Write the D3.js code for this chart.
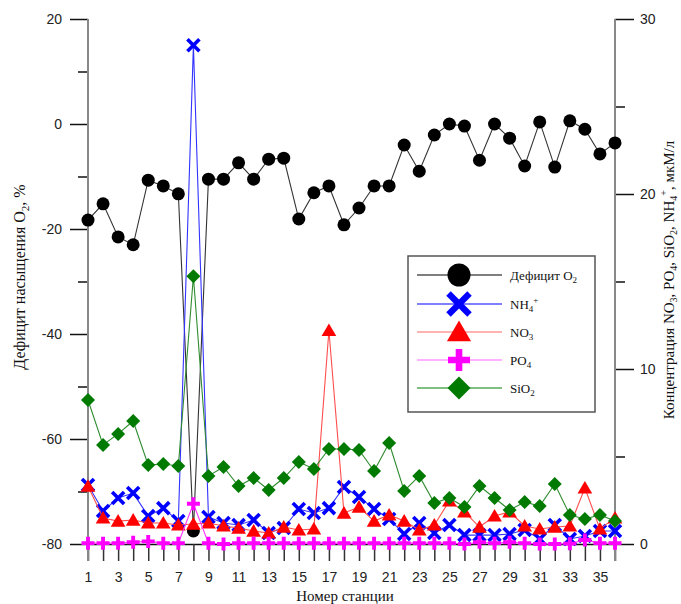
<!DOCTYPE html>
<html><head><meta charset="utf-8">
<script src="https://cdn.jsdelivr.net/npm/d3@7"></script>
<style>body{margin:0;background:#fff}svg{display:block}</style>
</head><body>
<script>
const stations = d3.range(1, 37);
const o2Deficit = [-18.3,-15.2,-21.5,-23.0,-10.7,-11.8,-13.3,-77.5,-10.5,-10.5,-7.4,-10.5,-6.7,-6.5,-18.1,-13.1,-11.8,-19.2,-16.0,-11.8,-11.8,-4.0,-9.0,-2.1,0.0,-0.4,-6.9,0.0,-2.7,-8.0,0.4,-8.2,0.6,-1.0,-5.7,-3.6];
const nh4 = [3.37,1.89,2.63,2.91,1.6,2.05,1.31,28.5,1.54,1.2,1.09,1.37,0.63,0.91,2.0,1.77,2.05,3.26,2.69,2.0,1.43,0.57,1.2,0.63,1.09,0.51,0.51,0.51,0.57,0.8,0.29,1.09,0.29,0.46,0.74,0.74];
const no3 = [3.3,1.49,1.31,1.37,1.2,1.2,1.09,1.14,1.2,1.03,0.91,0.74,0.63,0.97,0.8,0.86,12.2,1.77,2.11,1.31,1.66,1.31,0.8,1.09,2.46,1.83,0.97,1.6,1.83,1.03,0.86,0.97,1.03,3.2,0.86,1.49];
const po4 = [0.05,0.05,0.05,0.1,0.15,0.05,0.05,2.3,0.05,0.0,0.05,0.05,0.05,0.05,0.05,0.05,0.05,0.05,0.05,0.05,0.05,0.05,0.05,0.05,0.05,0.0,0.1,0.05,0.1,0.05,0.0,0.0,0.02,0.23,0.05,0.05];
const sio2 = [8.23,5.66,6.29,7.03,4.51,4.57,4.46,15.3,3.89,4.4,3.31,3.77,3.09,3.77,4.69,4.29,5.43,5.43,5.37,4.17,5.77,3.03,3.89,2.34,2.63,2.11,3.31,2.63,1.94,2.4,2.17,3.43,1.66,1.43,1.66,1.31];
const leftTicks = [-80,-70,-60,-50,-40,-30,-20,-10,0,10,20];
const rightTicks = [0,5,10,15,20,25,30];

const W = 681, H = 604;
const svg = d3.select("body").append("svg").attr("width", W).attr("height", H);
const x = d3.scaleLinear().domain([1, 36]).range([88, 615]);
const yL = d3.scaleLinear().domain([-80, 20]).range([544, 19]);
const yR = d3.scaleLinear().domain([0, 30]).range([544, 19]);

const sans = "'Liberation Sans', Arial, sans-serif";
const serif = "'Liberation Serif', 'Times New Roman', serif";

// bottom axis
const gx = svg.append("g").attr("transform", "translate(0,544)")
  .call(d3.axisBottom(x).tickValues(stations).tickSize(17).tickPadding(11).tickSizeOuter(0)
    .tickFormat(d => d % 2 ? d : ""));
gx.select(".domain").attr("stroke", "#111").attr("stroke-width", 1.5);
gx.selectAll(".tick line").attr("stroke", "#333").attr("stroke-width", 1.5);
gx.selectAll(".tick text").attr("font-family", sans).attr("font-size", 14).attr("fill", "#222");

// left axis
const gl = svg.append("g").attr("transform", "translate(88,0)")
  .call(d3.axisLeft(yL).tickValues(leftTicks).tickSize(18).tickPadding(8).tickSizeOuter(0)
    .tickFormat(d => d % 20 === 0 ? d : ""));
gl.select(".domain").remove();
gl.selectAll(".tick line").attr("stroke", "#111").attr("stroke-width", 1.5)
  .attr("x2", d => d % 20 === 0 ? -18 : -10);
gl.selectAll(".tick text").attr("font-family", sans).attr("font-size", 14).attr("fill", "#222");

// right axis
const gr = svg.append("g").attr("transform", "translate(615,0)")
  .call(d3.axisRight(yR).tickValues(rightTicks).tickSize(19).tickPadding(6).tickSizeOuter(0)
    .tickFormat(d => d % 10 === 0 ? d : ""));
gr.select(".domain").remove();
gr.selectAll(".tick line").attr("stroke", "#111").attr("stroke-width", 1.5)
  .attr("x2", d => d % 10 === 0 ? 19 : 10);
gr.selectAll(".tick text").attr("font-family", sans).attr("font-size", 14).attr("fill", "#222");

// axis vertical lines
svg.append("line").attr("x1", 88).attr("x2", 88).attr("y1", 19).attr("y2", 561).attr("stroke", "#888").attr("stroke-width", 2);
svg.append("line").attr("x1", 615).attr("x2", 615).attr("y1", 19).attr("y2", 561).attr("stroke", "#888").attr("stroke-width", 2);

// axis titles
const lt = svg.append("text").attr("transform", "translate(25,277) rotate(-90)")
  .attr("text-anchor", "middle").attr("font-family", serif).attr("font-size", 16).attr("fill", "#111");
lt.append("tspan").text("Дефицит насыщения О");
lt.append("tspan").attr("font-size", 11).attr("dy", 4).text("2");
lt.append("tspan").attr("dy", -4).text(", %");

const rt = svg.append("text").attr("transform", "translate(674,280) rotate(-90)")
  .attr("text-anchor", "middle").attr("font-family", serif).attr("font-size", 15).attr("fill", "#111");
rt.append("tspan").text("Концентрация NO");
rt.append("tspan").attr("font-size", 10).attr("dy", 3).text("3");
rt.append("tspan").attr("dy", -3).text(", PO");
rt.append("tspan").attr("font-size", 10).attr("dy", 3).text("4");
rt.append("tspan").attr("dy", -3).text(", SiO");
rt.append("tspan").attr("font-size", 10).attr("dy", 3).text("2");
rt.append("tspan").attr("dy", -3).text(", NH");
rt.append("tspan").attr("font-size", 10).attr("dy", 3).text("4");
rt.append("tspan").attr("font-size", 10).attr("dy", -10).text("+");
rt.append("tspan").attr("dy", 7).text(", мкМ/л");

svg.append("text").attr("x", 345).attr("y", 601).attr("text-anchor", "middle")
  .attr("font-family", serif).attr("font-size", 15).attr("fill", "#111").text("Номер станции");

// markers
function drawMarker(g, type, color, s) {
  if (type === "circle") g.append("circle").attr("r", s).attr("fill", color);
  else if (type === "x") g.append("path").attr("d", `M${-s},${-s}L${s},${s}M${-s},${s}L${s},${-s}`).attr("stroke", color).attr("stroke-width", s * 0.6).attr("fill", "none");
  else if (type === "tri") g.append("path").attr("d", `M0,${-s}L${s*1.05},${s*0.8}L${-s*1.05},${s*0.8}Z`).attr("fill", color);
  else if (type === "plus") g.append("path").attr("d", `M${-s},0L${s},0M0,${-s}L0,${s}`).attr("stroke", color).attr("stroke-width", s * 0.6).attr("fill", "none");
  else if (type === "diamond") g.append("path").attr("d", `M0,${-s}L${s},0L0,${s}L${-s},0Z`).attr("fill", color);
}

const series = [
  {name: "o2", values: o2Deficit, y: yL, line: "#333", color: "#000", type: "circle", size: 6.5, lsize: 11.5},
  {name: "nh4", values: nh4, y: yR, line: "#3333ff", color: "#0000ff", type: "x", size: 6, lsize: 10.5},
  {name: "no3", values: no3, y: yR, line: "#ff4d4d", color: "#ff0000", type: "tri", size: 7, lsize: 11.5},
  {name: "po4", values: po4, y: yR, line: "#ff33ff", color: "#ff00ff", type: "plus", size: 6.5, lsize: 11},
  {name: "sio2", values: sio2, y: yR, line: "#2e8b2e", color: "#007a00", type: "diamond", size: 7, lsize: 11.5}
];

series.forEach(s => {
  const line = d3.line().x((d, i) => x(stations[i])).y(d => s.y(d));
  svg.append("path").datum(s.values).attr("d", line).attr("fill", "none").attr("stroke", s.line).attr("stroke-width", 1.1);
  const g = svg.append("g");
  s.values.forEach((v, i) => {
    const m = g.append("g").attr("transform", `translate(${x(stations[i])},${s.y(v)})`);
    drawMarker(m, s.type, s.color, s.size);
  });
});

// legend
const lg = svg.append("g");
lg.append("rect").attr("x", 408).attr("y", 256).attr("width", 187).attr("height", 156)
  .attr("fill", "#fff").attr("stroke", "#555").attr("stroke-width", 1.5);
const legendLabels = [
  [["Дефицит O", 0], ["2", 1]],
  [["NH", 0], ["4", 1], ["+", 2]],
  [["NO", 0], ["3", 1]],
  [["PO", 0], ["4", 1]],
  [["SiO", 0], ["2", 1]]
];
const legendY = [275, 304, 332, 360, 388];
const legendLine = ["#000", "#0000ff", "#ff6666", "#ff66ff", "#008000"];
series.forEach((s, i) => {
  const yy = legendY[i];
  lg.append("line").attr("x1", 417).attr("x2", 502).attr("y1", yy).attr("y2", yy).attr("stroke", legendLine[i]).attr("stroke-width", 1.2);
  const m = lg.append("g").attr("transform", `translate(459,${yy})`);
  drawMarker(m, s.type, s.color, s.lsize);
  const t = lg.append("text").attr("x", 510).attr("y", yy + 5).attr("font-family", serif).attr("font-size", 13).attr("fill", "#111");
  let shift = 0;
  legendLabels[i].forEach(([txt, k]) => {
    const ts = t.append("tspan").text(txt);
    if (k === 0) { ts.attr("dy", -shift); shift = 0; }
    else if (k === 1) { ts.attr("font-size", 9).attr("dy", 3 - shift); shift = 3; }
    else { ts.attr("font-size", 9).attr("dy", -9); shift = -6; }
  });
});
</script>
</body></html>
